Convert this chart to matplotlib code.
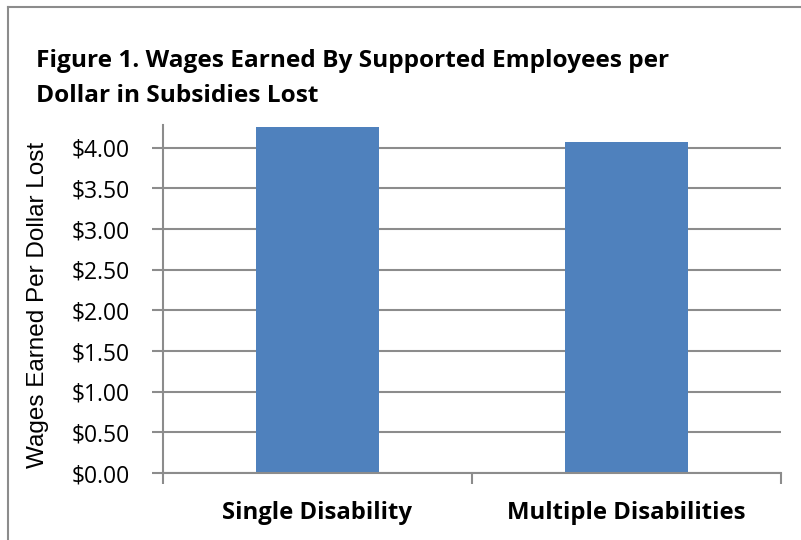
import matplotlib.pyplot as plt
from matplotlib.lines import Line2D
from matplotlib.ticker import FuncFormatter, MultipleLocator

categories = ['Single Disability', 'Multiple Disabilities']
wages_per_dollar = [4.26, 4.07]
title_lines = ['Figure 1. Wages Earned By Supported Employees per',
               'Dollar in Subsidies Lost']
ylabel = 'Wages Earned Per Dollar Lost'

bar_color = '#4F81BD'
grid_color = '#8C8C8C'

fig = plt.figure(figsize=(8.01, 5.4), dpi=100)
ax = fig.add_axes([163 / 801, 1 - 473 / 540, (781 - 163) / 801, (473 - 125) / 540])

x = list(range(len(categories)))
ax.bar(x, wages_per_dollar, width=0.4, color=bar_color, zorder=3)

ax.set_xlim(-0.5, len(categories) - 0.5)
ax.set_ylim(0, 4.28)
ax.yaxis.set_major_locator(MultipleLocator(0.5))
ax.yaxis.set_major_formatter(FuncFormatter(lambda v, p: f'${v:.2f}'))
ax.grid(axis='y', color=grid_color, linewidth=1.5, zorder=0)

ax.set_xticks(x)
ax.set_xticklabels(categories, fontsize=17.2, fontweight='bold', family='Open Sans')
ax.set_xticks([-0.5, 0.5, 1.5], minor=True)
ax.tick_params(axis='x', which='major', length=0, pad=20)
ax.tick_params(axis='x', which='minor', length=8, width=1.5, color=grid_color, direction='out')
ax.tick_params(axis='y', length=8, width=1.5, color=grid_color, labelsize=16.5, pad=16)
for lbl in ax.get_yticklabels():
    lbl.set_family('Open Sans')

for side in ['top', 'right']:
    ax.spines[side].set_visible(False)
for side in ['left', 'bottom']:
    ax.spines[side].set_color(grid_color)
    ax.spines[side].set_linewidth(1.5)
ax.spines['bottom'].set_zorder(4)

ax.set_ylabel(ylabel, fontsize=17.5, family='Liberation Sans')
ax.yaxis.set_label_coords(-0.185, 0.483)

# title, one line at a time (baselines)
for line, base_y in zip(title_lines, [67, 102]):
    fig.text(36 / 801, 1 - base_y / 540, line, fontsize=17.6, fontweight='bold',
             family='Open Sans', va='baseline', ha='left')

# outer chart border (left and top visible)
fig.add_artist(Line2D([8 / 801, 8 / 801], [0, 1 - 7 / 540], transform=fig.transFigure,
                      color='#8C8C8C', linewidth=1.5))
fig.add_artist(Line2D([8 / 801, 1], [1 - 7 / 540, 1 - 7 / 540], transform=fig.transFigure,
                      color='#8C8C8C', linewidth=1.5))

fig.savefig('out.png', dpi=100)
